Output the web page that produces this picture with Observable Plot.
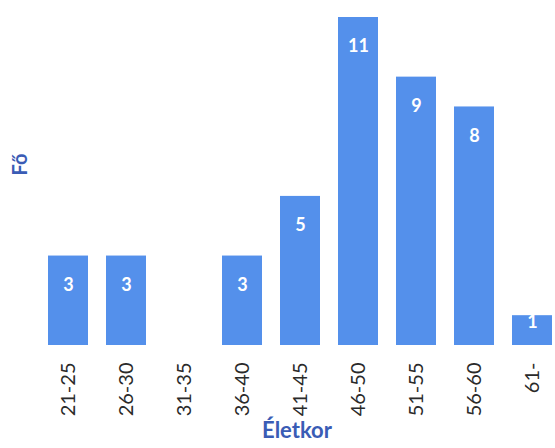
<!DOCTYPE html>
<html><head><meta charset="utf-8">
<script src="https://cdn.jsdelivr.net/npm/d3@7"></script>
<script src="https://cdn.jsdelivr.net/npm/@observablehq/plot@0.6"></script>
<style>body{margin:0;background:#fff}</style>
</head><body><div id="chart"></div>
<script>
const categories = ["21-25","26-30","31-35","36-40","41-45","46-50","51-55","56-60","61-"];
const counts = [3,3,0,3,5,11,9,8,1];
const data = categories.map((c,i)=>({cat:c, n:counts[i]}));
const barColor = "#5490eb";
const chart = Plot.plot({
  width: 555, height: 448,
  marginLeft: 38, marginRight: 0, marginTop: 17, marginBottom: 103,
  style: {fontFamily: "Lato, 'Open Sans', sans-serif", background: "#fff"},
  x: {domain: categories, range: [38, 562], paddingInner: 0.31, paddingOuter: 0.155, label: null},
  y: {domain: [0, 11], axis: null},
  marks: [
    Plot.barY(data.filter(d=>d.n>0), {x: "cat", y: "n", fill: barColor}),
    Plot.text(data.filter(d=>d.n>1), {x: "cat", y: "n", text: d=>String(d.n), dy: 29, fill: "white", fontWeight: "bold", fontSize: 18}),
    Plot.text(data.filter(d=>d.n===1), {x: "cat", y: "n", text: d=>String(d.n), dy: 7, fill: "white", fontWeight: "bold", fontSize: 18}),
    Plot.axisX({tickSize: 0, tickPadding: 17, tickRotate: -90, fontSize: 20, fill: "#2a2a2a", label: null}),
    Plot.text(["Életkor"], {frameAnchor: "bottom", dy: 92, text: d=>d, fill: "#3a5cb5", fontWeight: "bold", fontSize: 22}),
    Plot.text(["Fő"], {frameAnchor: "left", dx: -18, dy: -6, rotate: -90, text: d=>d, fill: "#3a5cb5", fontWeight: "bold", fontSize: 20})
  ]
});
document.getElementById("chart").append(chart);
</script></body></html>
